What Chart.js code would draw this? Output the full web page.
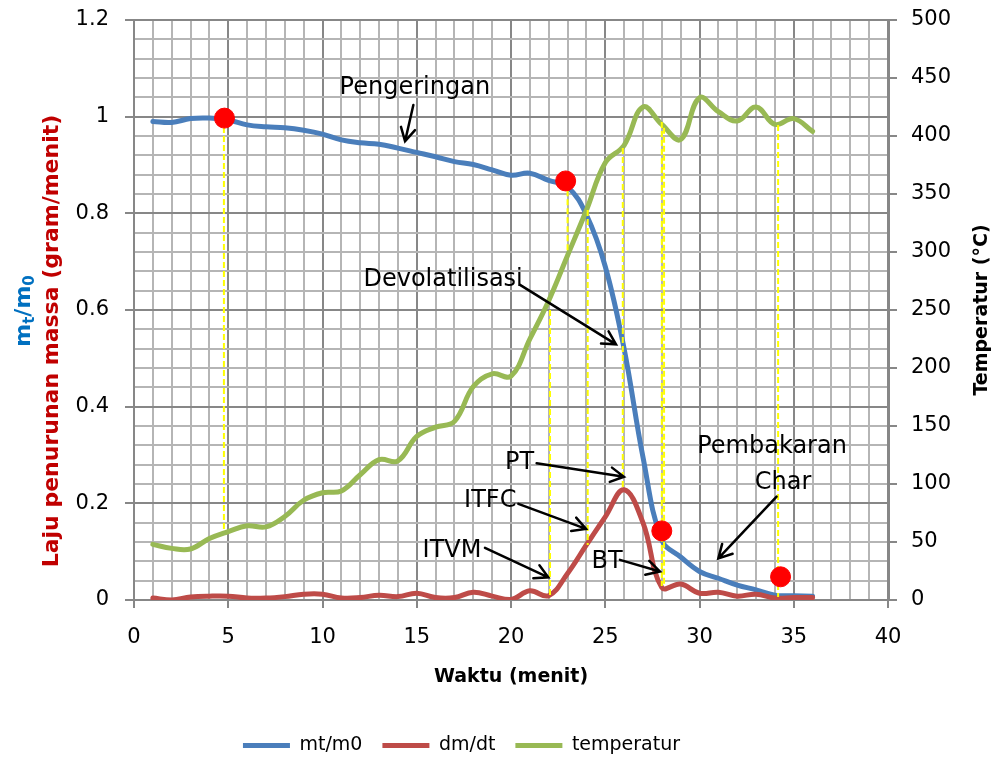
<!DOCTYPE html>
<html>
<head>
<meta charset="utf-8">
<script src="https://cdn.jsdelivr.net/npm/chart.js@4"></script>
<style>
  html, body { margin: 0; padding: 0; background: #fff; }
  #wrap { width: 997px; height: 765px; }
</style>
</head>
<body>
<div id="wrap"><canvas id="myChart" width="997" height="765"></canvas></div>
<script>
// waktu (menit)
const time = [1, 2, 3, 4, 5, 6, 7, 8, 9, 10, 11, 12, 13, 14, 15, 16, 17, 18,
              19, 20, 21, 22, 23, 24, 25, 26, 27, 28, 29, 30, 31, 32, 33, 34, 35, 36];

// mt/m0
const mtm0 = [0.990, 0.988, 0.996, 0.997, 0.993, 0.983, 0.979, 0.977, 0.972, 0.964, 0.952, 0.946,
              0.943, 0.935, 0.926, 0.917, 0.907, 0.901, 0.890, 0.879, 0.883, 0.868, 0.855, 0.797,
              0.690, 0.520, 0.296, 0.124, 0.089, 0.059, 0.045, 0.031, 0.021, 0.010, 0.009, 0.008];

// dm/dt
const dmdt = [0.004, 0.000, 0.006, 0.008, 0.008, 0.004, 0.004, 0.007, 0.012, 0.012, 0.004, 0.005,
              0.010, 0.007, 0.014, 0.005, 0.005, 0.016, 0.008, 0.001, 0.019, 0.009, 0.055, 0.114,
              0.172, 0.228, 0.160, 0.026, 0.033, 0.014, 0.016, 0.008, 0.012, 0.004, 0.005, 0.005];

// temperatur (C)
const temperatur = [48, 44.5, 44, 53, 59, 64, 63, 72, 86, 92.5, 94, 108,
                    121, 120, 141, 149, 154, 184, 195, 193, 225, 258, 297, 336,
                    377, 392, 425, 410, 397, 433, 421, 413, 425, 410, 415, 404];

// titik merah
const markerX = [4.8, 22.9, 28.0, 34.3];
const markerY = [0.997, 0.867, 0.143, 0.048];

// garis kuning putus-putus (x, dari, sampai) pada sumbu kiri
const guideX    = [4.77, 23.0, 22.07, 24.07, 25.93, 28.0, 28.12, 34.17];
const guideTop  = [0.997, 0.848, 0.600, 0.807, 0.935, 0.989, 0.977, 0.983];
const guideBot  = [0.143, 0.718, 0.010, 0.114, 0.228, 0.029, 0.029, 0.006];

// label sumbu
const xTicks = [0, 5, 10, 15, 20, 25, 30, 35, 40];
const yLeftTicks = [0, 0.2, 0.4, 0.6, 0.8, 1, 1.2];
const yRightTicks = [0, 50, 100, 150, 200, 250, 300, 350, 400, 450, 500];

// keterangan
const notes = [
    {text: "Pengeringan", x: 14.9, y: 1.059},
    {text: "Devolatilisasi", x: 16.4, y: 0.662},
    {text: "PT", x: 20.45, y: 0.283},
    {text: "ITFC", x: 18.9, y: 0.205},
    {text: "ITVM", x: 16.87, y: 0.101},
    {text: "BT", x: 25.1, y: 0.079},
    {text: "Pembakaran", x: 33.85, y: 0.317},
    {text: "Char", x: 34.43, y: 0.242}
];
const arrows = [
    {x1: 14.82, y1: 1.024, x2: 14.38, y2: 0.949},
    {x1: 20.48, y1: 0.652, x2: 25.57, y2: 0.529},
    {x1: 21.36, y1: 0.283, x2: 25.99, y2: 0.255},
    {x1: 20.39, y1: 0.199, x2: 23.98, y2: 0.147},
    {x1: 18.62, y1: 0.108, x2: 21.98, y2: 0.047},
    {x1: 25.78, y1: 0.083, x2: 27.9, y2: 0.059},
    {x1: 34.09, y1: 0.214, x2: 31.0, y2: 0.086}
];

const FONT = "'DejaVu Sans'";
const MAJOR = "#878787";
const MINOR = "#b5b5b5";

function pts(xs, ys) {
    return xs.map((x, i) => ({x: x, y: ys[i]}));
}

const datasets = [
    {label: "mt/m0", data: pts(time, mtm0), borderColor: "#4A7EBB", yAxisID: "y", order: 4},
    {label: "dm/dt", data: pts(time, dmdt), borderColor: "#BE4B48", yAxisID: "y", order: 3},
    {label: "temperatur", data: pts(time, temperatur), borderColor: "#98B954", yAxisID: "y1", order: 2}
];
datasets.forEach(d => {
    d.borderWidth = 5;
    d.pointRadius = 0;
    d.tension = 0.4;
    d.fill = false;
    d.borderCapStyle = "round";
    d.borderJoinStyle = "round";
});

guideX.forEach((gx, i) => {
    datasets.push({
        label: "guide" + i,
        data: [{x: gx, y: guideTop[i]}, {x: gx, y: guideBot[i]}],
        borderColor: "#FFFF00",
        borderWidth: 2,
        borderDash: [6, 3],
        pointRadius: 0,
        yAxisID: "y",
        order: 1
    });
});

datasets.push({
    label: "titik",
    type: "scatter",
    data: pts(markerX, markerY),
    backgroundColor: "#FF0000",
    borderColor: "#FF0000",
    pointRadius: 10,
    showLine: false,
    yAxisID: "y",
    order: 0
});

function major5(v) { return Math.abs(v / 5 - Math.round(v / 5)) < 1e-6; }
function majorY(v) { return Math.abs(v / 0.2 - Math.round(v / 0.2)) < 1e-6; }

// gambar judul sumbu, panah dan teks
const decor = {
    id: "decor",
    afterLayout(chart) {
        // legenda Excel sedikit ke kiri
        chart.legend.left -= 37;
        chart.legend.right -= 37;
    },
    afterDatasetsDraw(chart) {
        const c = chart.ctx, xs = chart.scales.x, ys = chart.scales.y;
        c.save();
        c.strokeStyle = "#000";
        c.lineWidth = 2.5;
        c.lineCap = "round";
        arrows.forEach(a => {
            const x1 = xs.getPixelForValue(a.x1), y1 = ys.getPixelForValue(a.y1);
            const x2 = xs.getPixelForValue(a.x2), y2 = ys.getPixelForValue(a.y2);
            const ang = Math.atan2(y2 - y1, x2 - x1);
            c.beginPath();
            c.moveTo(x1, y1);
            c.lineTo(x2, y2);
            c.moveTo(x2 - 15 * Math.cos(ang - 0.5), y2 - 15 * Math.sin(ang - 0.5));
            c.lineTo(x2, y2);
            c.lineTo(x2 - 15 * Math.cos(ang + 0.5), y2 - 15 * Math.sin(ang + 0.5));
            c.stroke();
        });
        c.fillStyle = "#000";
        c.font = "24px " + FONT;
        c.textAlign = "center";
        c.textBaseline = "middle";
        notes.forEach(n => {
            c.fillText(n.text, xs.getPixelForValue(n.x), ys.getPixelForValue(n.y));
        });
        c.restore();
    },
    afterDraw(chart) {
        const c = chart.ctx;
        const area = chart.chartArea;
        const midY = (area.top + area.bottom) / 2;
        c.save();
        c.textBaseline = "middle";
        // sumbu x
        c.fillStyle = "#000";
        c.textAlign = "center";
        c.font = "bold 19px " + FONT;
        c.fillText("Waktu (menit)", (area.left + area.right) / 2, 677);
        // sumbu kanan
        c.save();
        c.translate(982, midY);
        c.rotate(-Math.PI / 2);
        c.fillText("Temperatur (\u00B0C)", 0, 0);
        c.restore();
        // sumbu kiri, merah
        c.save();
        c.translate(52, 341);
        c.rotate(-Math.PI / 2);
        c.fillStyle = "#C00000";
        c.font = "bold 22px " + FONT;
        c.fillText("Laju penurunan massa (gram/menit)", 0, 0);
        c.restore();
        // sumbu kiri, biru m_t/m_0
        c.save();
        c.translate(24, 311);
        c.rotate(-Math.PI / 2);
        c.fillStyle = "#0070C0";
        const big = "bold 22px " + FONT, small = "bold 15px " + FONT;
        const parts = [["m", big, 0], ["t", small, 6], ["/m", big, 0], ["0", small, 6]];
        let w = 0;
        parts.forEach(p => { c.font = p[1]; w += c.measureText(p[0]).width; });
        let px = -w / 2;
        c.textAlign = "left";
        parts.forEach(p => {
            c.font = p[1];
            c.fillText(p[0], px, p[2]);
            px += c.measureText(p[0]).width;
        });
        c.restore();
        c.restore();
    }
};

const ctx = document.getElementById("myChart").getContext("2d");

const chart = new Chart(ctx, {
    type: "line",
    data: {datasets: datasets},
    options: {
        responsive: false,
        animation: false,
        layout: {padding: {top: 20, left: 0, right: 0, bottom: 0}},
        plugins: {
            tooltip: {enabled: false},
            legend: {
                position: "bottom",
                labels: {
                    filter: item => item.datasetIndex < 3,
                    boxWidth: 47,
                    boxHeight: 5,
                    padding: 20,
                    color: "#000",
                    font: {family: FONT, size: 19},
                    generateLabels(ch) {
                        return ch.data.datasets.slice(0, 3).map((d, i) => ({
                            text: d.label,
                            fillStyle: d.borderColor,
                            strokeStyle: d.borderColor,
                            lineWidth: 0,
                            datasetIndex: i
                        }));
                    }
                }
            }
        },
        scales: {
            x: {
                type: "linear",
                min: xTicks[0],
                max: xTicks[xTicks.length - 1],
                afterBuildTicks(s) {
                    const t = [];
                    for (let v = s.min; v <= s.max; v++) t.push({value: v});
                    s.ticks = t;
                },
                afterFit(s) {
                    s.height = s.chart.height - 600 - s.chart.legend.height;
                },
                ticks: {
                    autoSkip: false,
                    maxRotation: 0,
                    padding: 17,
                    color: "#000",
                    font: {family: FONT, size: 21},
                    callback: v => xTicks.includes(v) ? String(v) : ""
                },
                grid: {
                    lineWidth: 2,
                    tickLength: 8,
                    color: c => major5(c.tick.value) ? MAJOR : MINOR,
                    tickColor: c => major5(c.tick.value) ? MAJOR : "rgba(0,0,0,0)"
                },
                border: {color: MAJOR, width: 2}
            },
            y: {
                type: "linear",
                position: "left",
                min: yLeftTicks[0],
                max: yLeftTicks[yLeftTicks.length - 1],
                afterBuildTicks(s) {
                    const t = [];
                    for (let i = 0; i <= 30; i++) t.push({value: Math.round(i * 4) / 100});
                    s.ticks = t;
                },
                afterFit(s) {
                    s.width = 134;
                    s.paddingTop = 0;
                    s.paddingBottom = 0;
                },
                ticks: {
                    autoSkip: false,
                    padding: 16,
                    color: "#000",
                    font: {family: FONT, size: 21},
                    callback: v => {
                        const hit = yLeftTicks.find(t => Math.abs(t - v) < 1e-6);
                        return hit === undefined ? "" : String(hit);
                    }
                },
                grid: {
                    lineWidth: 2,
                    tickLength: 9,
                    color: c => majorY(c.tick.value) ? MAJOR : MINOR,
                    tickColor: c => majorY(c.tick.value) ? MAJOR : "rgba(0,0,0,0)"
                },
                border: {color: MAJOR, width: 2}
            },
            y1: {
                type: "linear",
                position: "right",
                min: yRightTicks[0],
                max: yRightTicks[yRightTicks.length - 1],
                afterBuildTicks(s) {
                    s.ticks = yRightTicks.map(v => ({value: v}));
                },
                afterFit(s) {
                    s.width = 997 - 888;
                    s.paddingTop = 0;
                    s.paddingBottom = 0;
                },
                ticks: {
                    autoSkip: false,
                    padding: 14,
                    color: "#000",
                    font: {family: FONT, size: 21}
                },
                grid: {
                    drawOnChartArea: false,
                    lineWidth: 2,
                    tickLength: 9,
                    color: MAJOR,
                    tickColor: MAJOR
                },
                border: {color: MAJOR, width: 3}
            }
        }
    },
    plugins: [decor]
});
</script>
</body>
</html>
